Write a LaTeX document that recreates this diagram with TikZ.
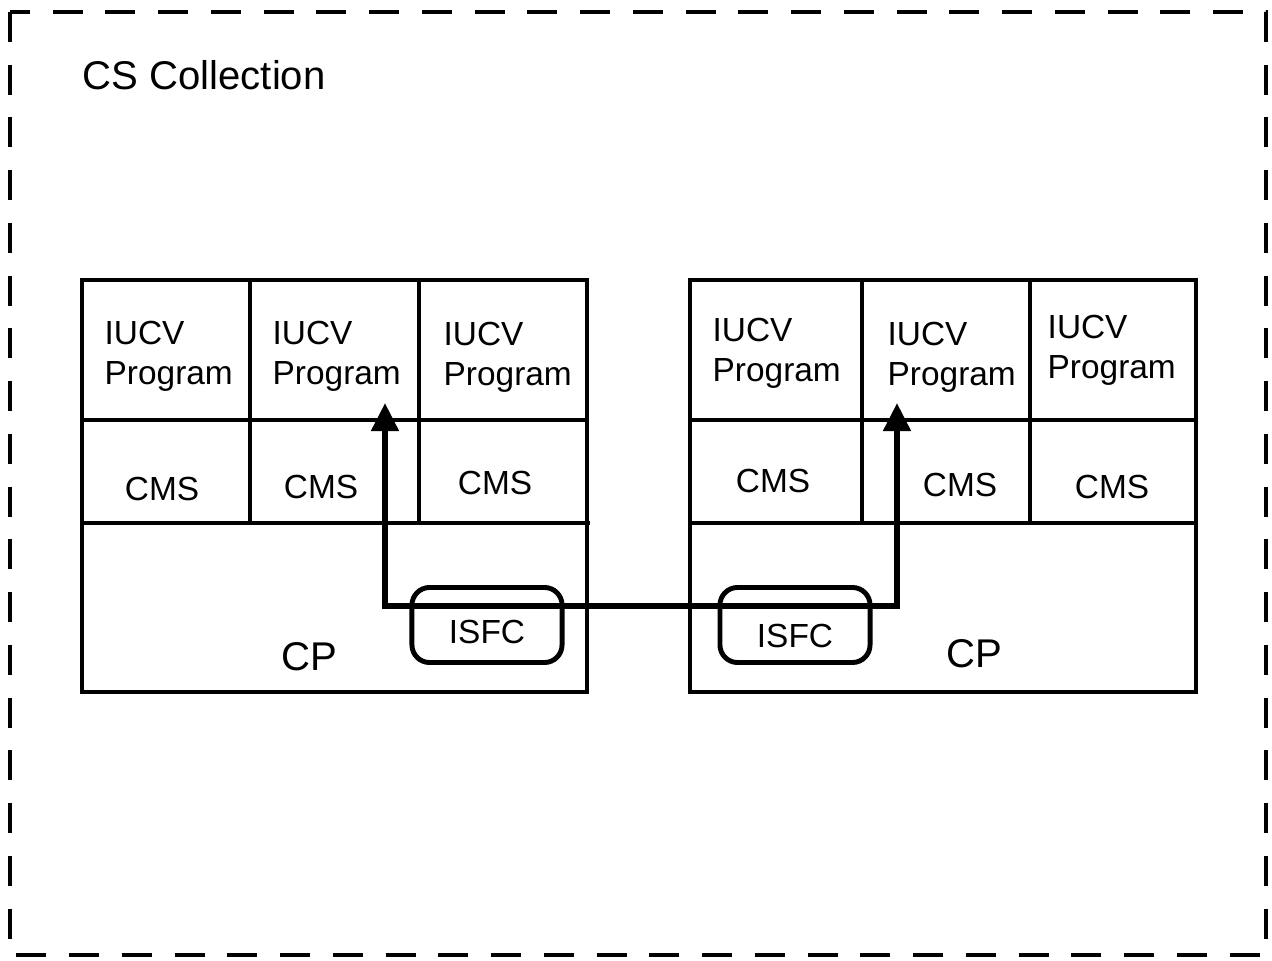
\documentclass[tikz,border=0pt]{standalone}
\usepackage{fontspec}
\setmainfont{Liberation Sans}
\usetikzlibrary{arrows.meta}
\tikzset{
  frame/.style={line width=1.4pt},
  thin frame/.style={line width=1.1pt},
  prog/.style={font=\fontsize{9.5}{11.4}\selectfont, align=left, anchor=base west, inner sep=0pt},
  cms/.style={font=\fontsize{9.5}{11.4}\selectfont, inner sep=0pt},
  big/.style={font=\fontsize{11.4}{13.7}\selectfont, inner sep=0pt},
  isfcbox/.style={draw, line width=1.4pt, rounded corners=5pt, minimum width=1.5cm, minimum height=0.75cm, font=\fontsize{9.5}{11.4}\selectfont},
  link/.style={line width=1.7pt, {Triangle[length=8pt,width=7.6pt]}-{Triangle[length=8pt,width=7.6pt]}}
}
\begin{document}
\begin{tikzpicture}[x=0.01cm, y=-0.01cm]
    \useasboundingbox (0,0) rectangle (1272,961);

    % Dashed collection border
    \draw[line width=1.4pt, dash pattern=on 8.5pt off 6.5pt] (10,12) rectangle (1266,955);
    \node[big, anchor=base west] (title) at (82,90) {CS Collection};

    % Left system
    \draw[frame] (82,280) rectangle (587,692);
    \draw[frame] (82,420) -- (587,420);
    \draw[thin frame] (82,523) -- (590,523);
    \draw[frame] (250,280) -- (250,523);
    \draw[frame] (419,280) -- (419,523);

    % Right system
    \draw[frame] (690,280) rectangle (1196,692);
    \draw[frame] (690,420) -- (1196,420);
    \draw[thin frame] (690,523) -- (1196,523);
    \draw[frame] (862,280) -- (862,523);
    \draw[frame] (1030,280) -- (1030,523);

    % IUCV programs
    \node[prog] (lp1) at (104,385) {IUCV\\Program};
    \node[prog] (lp2) at (272,385) {IUCV\\Program};
    \node[prog] (lp3) at (443,386) {IUCV\\Program};
    \node[prog] (rp1) at (712,382) {IUCV\\Program};
    \node[prog] (rp2) at (887,386) {IUCV\\Program};
    \node[prog] (rp3) at (1047,379) {IUCV\\Program};

    % CMS row
    \node[cms] (lc1) at (162,489) {CMS};
    \node[cms] (lc2) at (321,487) {CMS};
    \node[cms] (lc3) at (495,483) {CMS};
    \node[cms] (rc1) at (773,481) {CMS};
    \node[cms] (rc2) at (960,485) {CMS};
    \node[cms] (rc3) at (1112,487) {CMS};

    % CP
    \node[big] (lcp) at (309,657) {CP};
    \node[big] (rcp) at (974,654) {CP};

    % ISFC links
    \node[isfcbox] (lisfc) at (487,625) {\raisebox{-2pt}[\height][0pt]{ISFC}};
    \node[isfcbox] (risfc) at (795,625) {\raisebox{-3pt}[\height][0pt]{ISFC}};

    % Connection
    \coordinate (ltip) at (385,403);
    \coordinate (lbend) at (385,606);
    \coordinate (rbend) at (897,606);
    \coordinate (rtip) at (897,403);
    \draw[link] (ltip) -- (lbend) -- (rbend) -- (rtip);
\end{tikzpicture}
\end{document}
